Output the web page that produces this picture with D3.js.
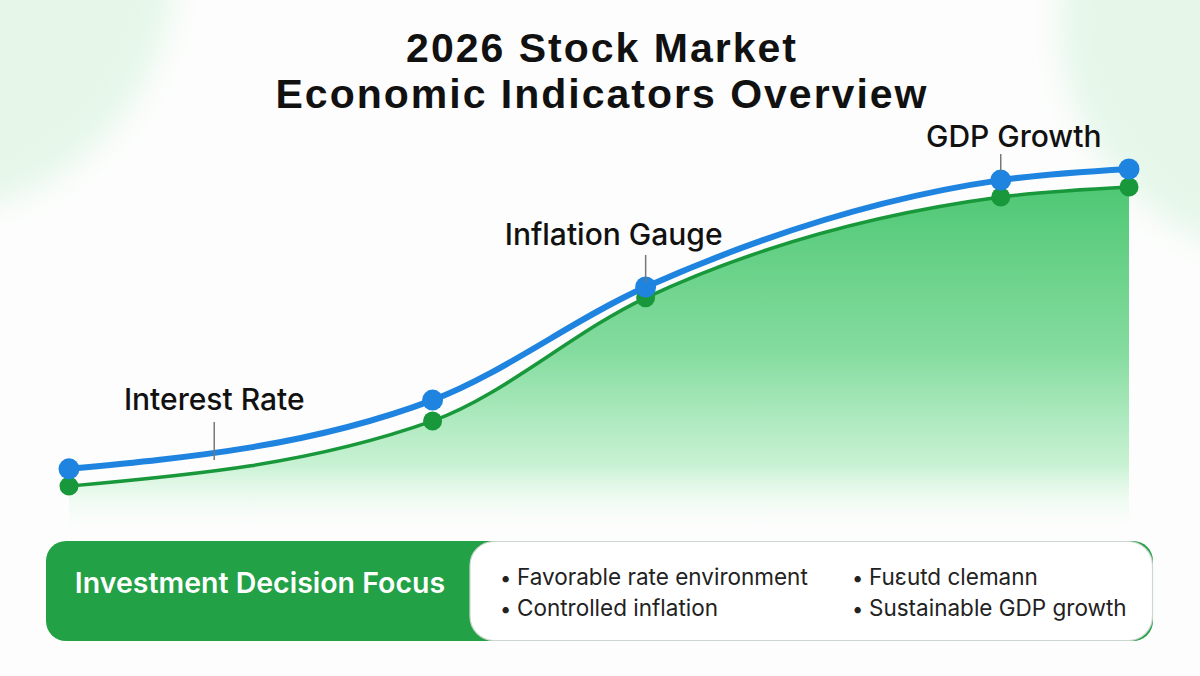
<!DOCTYPE html>
<html><head><meta charset="utf-8">
<script src="https://cdn.jsdelivr.net/npm/d3@7"></script>
<style>html,body{margin:0;padding:0;background:#fcfdfc;}svg{display:block;}</style>
</head><body>
<script>
// ---- data ----
const titleLines = ["2026 Stock Market", "Economic Indicators Overview"];
const xValues = [0, 34.3, 54.4, 87.9, 100];
const blueSeries = [15.6, 34.7, 66.1, 95.8, 98.9];
const greenSeries = [10.8, 28.9, 63.1, 91.1, 93.9];
const annotationLabels = ["Interest Rate", "Inflation Gauge", "GDP Growth"];
const annotationX = [13.7, 54.4, 87.9];
const panelTitle = "Investment Decision Focus";
const bulletsCol1 = ["Favorable rate environment", "Controlled inflation"];
const bulletsCol2 = ["Fuεutd clemann", "Sustainable GDP growth"];

const W = 1200, H = 676;
const svg = d3.select("body").append("svg").attr("width", W).attr("height", H);
const defs = svg.append("defs");

const blur = defs.append("filter").attr("id", "blur").attr("x", "-50%").attr("y", "-50%").attr("width", "200%").attr("height", "200%");
blur.append("feGaussianBlur").attr("stdDeviation", 14);

const grad = defs.append("linearGradient").attr("id", "areaGrad")
  .attr("gradientUnits", "userSpaceOnUse").attr("x1", 0).attr("x2", 0).attr("y1", 180).attr("y2", 528);
grad.append("stop").attr("offset", "0%").attr("stop-color", "#4cc772").attr("stop-opacity", 1);
grad.append("stop").attr("offset", "50%").attr("stop-color", "#7fda9a").attr("stop-opacity", 0.95);
grad.append("stop").attr("offset", "82%").attr("stop-color", "#bff0cc").attr("stop-opacity", 0.85);
grad.append("stop").attr("offset", "100%").attr("stop-color", "#f0fbf2").attr("stop-opacity", 0.0);

// background
svg.append("rect").attr("width", W).attr("height", H).attr("fill", "#fcfdfc");
svg.append("circle").attr("cx", -80).attr("cy", -40).attr("r", 255).attr("fill", "#e6f7ea").attr("filter", "url(#blur)");
svg.append("circle").attr("cx", 1300).attr("cy", 20).attr("r", 240).attr("fill", "#e6f7ea").attr("filter", "url(#blur)");

// title
svg.append("g").selectAll("text").data(titleLines).join("text")
  .attr("x", 602).attr("y", (d, i) => 62 + i * 46)
  .attr("text-anchor", "middle")
  .attr("font-family", "'Liberation Sans', Arial, sans-serif")
  .attr("font-weight", 700).attr("font-size", 41).attr("letter-spacing", 2).attr("fill", "#111")
  .text(d => d);

// scales
const x = d3.scaleLinear().domain([0, 100]).range([69, 1129]);
const y = d3.scaleLinear().domain([0, 100]).range([525, 165]);

const idx = d3.range(xValues.length);
const curve = d3.curveMonotoneX;

const area = d3.area().x(i => x(xValues[i])).y0(y(0)).y1(i => y(greenSeries[i])).curve(curve);
svg.append("path").attr("d", area(idx)).attr("fill", "url(#areaGrad)");

const lineG = d3.line().x(i => x(xValues[i])).y(i => y(greenSeries[i])).curve(curve);
const lineB = d3.line().x(i => x(xValues[i])).y(i => y(blueSeries[i])).curve(curve);

svg.append("path").attr("d", lineG(idx)).attr("fill", "none").attr("stroke", "#18983a").attr("stroke-width", 3.5);
svg.append("path").attr("d", lineB(idx)).attr("fill", "none").attr("stroke", "#1e84e0").attr("stroke-width", 6);

svg.append("g").selectAll("circle").data(idx).join("circle")
  .attr("cx", i => x(xValues[i])).attr("cy", i => y(greenSeries[i])).attr("r", 9.5).attr("fill", "#18983a");
svg.append("g").selectAll("circle").data(idx).join("circle")
  .attr("cx", i => x(xValues[i])).attr("cy", i => y(blueSeries[i])).attr("r", 10.5).attr("fill", "#1e84e0");

// annotations
const labelOffsets = [[0, 410, 422, 460], [-32, 245, 255, 282], [13, 147, 154, 171]]; // dx, text baseline, leader top, leader bottom
const ann = svg.append("g");
annotationLabels.forEach((lab, k) => {
  const px = x(annotationX[k]);
  const o = labelOffsets[k];
  ann.append("line").attr("x1", px).attr("x2", px).attr("y1", o[2]).attr("y2", o[3])
    .attr("stroke", "#777").attr("stroke-width", 1.5);
  ann.append("text").attr("x", px + o[0]).attr("y", o[1]).attr("text-anchor", "middle")
    .attr("font-family", "Inter, 'Noto Sans', sans-serif").attr("font-weight", 500)
    .attr("font-size", 30).attr("fill", "#111").text(lab);
});

// bottom panel
const panel = svg.append("g");
panel.append("rect").attr("x", 46).attr("y", 541).attr("width", 1107).attr("height", 100).attr("rx", 20)
  .attr("fill", "#22a146");
panel.append("rect").attr("x", 470).attr("y", 541.5).attr("width", 682.5).attr("height", 99).attr("rx", 24)
  .attr("fill", "#ffffff").attr("stroke", "#cdd6cf").attr("stroke-width", 1.2);
panel.append("text").attr("x", 260).attr("y", 593).attr("text-anchor", "middle")
  .attr("font-family", "Inter, 'Noto Sans', sans-serif").attr("font-weight", 600)
  .attr("font-size", 28.5).attr("fill", "#fff").text(panelTitle);

const cols = [{x: 500, items: bulletsCol1}, {x: 852, items: bulletsCol2}];
cols.forEach(c => {
  const g = panel.append("g");
  g.selectAll("text.b").data(c.items).join("text").attr("class", "b")
    .attr("x", c.x).attr("y", (d, i) => 585 + i * 31)
    .attr("font-family", "Inter, 'Noto Sans', sans-serif").attr("font-size", 20).attr("fill", "#222")
    .text("•");
  g.selectAll("text.t").data(c.items).join("text").attr("class", "t")
    .attr("x", c.x + 17).attr("y", (d, i) => 585 + i * 31)
    .attr("font-family", "Inter, 'Noto Sans', sans-serif").attr("font-size", 22.5).attr("fill", "#222")
    .text(d => d);
});
</script>
</body></html>
